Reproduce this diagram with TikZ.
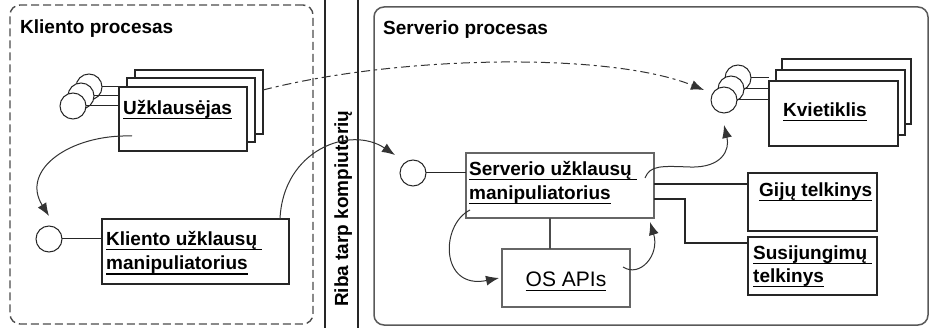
\documentclass[tikz,border=0pt]{standalone}
\usepackage{fontspec}
\setmainfont{Liberation Sans}
\usetikzlibrary{arrows.meta,calc}

% underlined label text: rule set a little below the baseline
\newsavebox\ulsave
\newcommand\ulined[1]{\sbox\ulsave{#1}\rlap{\raisebox{-4.5pt}{\rule{\wd\ulsave}{1.4pt}}}\usebox\ulsave}

\begin{document}
\begin{tikzpicture}[x=1pt,y=-1pt,
  comp/.style={rectangle, draw=black!85, line width=1.3pt, fill=white, inner sep=0pt, outer sep=0pt, anchor=north west},
  graycomp/.style={comp, draw=black!60},
  port/.style={circle, draw=black!85, line width=1pt, fill=white, inner sep=0pt, outer sep=0pt, minimum size=26pt},
  lbl/.style={anchor=base west, inner sep=0pt, font=\fontsize{19}{23}\selectfont\bfseries},
  wire/.style={draw=black!85, line width=1.2pt},
  flow/.style={draw=black!80, line width=1pt, -{Latex[length=13pt,width=10pt]}},
]
\useasboundingbox (0,0) rectangle (933,328);

% process frames
\node[draw=black!70, line width=1.4pt, dash pattern=on 8pt off 4pt, rounded corners=10pt,
      minimum width=303pt, minimum height=319pt, anchor=north west, inner sep=0pt, outer sep=0pt] (client) at (10,5) {};
\node[draw=black!65, line width=1.5pt, rounded corners=10pt,
      minimum width=554pt, minimum height=318pt, anchor=north west, inner sep=0pt, outer sep=0pt] (server) at (374,7) {};

% machine boundary
\coordinate (b1t) at (325,0); \coordinate (b1b) at (325,328);
\coordinate (b2t) at (358,0); \coordinate (b2b) at (358,328);
\draw[black!85, line width=1.5pt] (b1t) -- (b1b);
\draw[black!85, line width=1.5pt] (b2t) -- (b2b);
\node[lbl, rotate=90] (boundary) at (348,307) {Riba tarp kompiuterių};

\node[lbl] (clientTitle) at (20,34) {Kliento procesas};
\node[lbl] (serverTitle) at (383,35) {Serverio procesas};

% requester stack
\node[comp, minimum width=128pt, minimum height=64pt] (uz3) at (135,70) {};
\node[comp, minimum width=128pt, minimum height=64pt] (uz2) at (127,78) {};
\node[comp, minimum width=128pt, minimum height=64pt] (uz1) at (119,87) {};
\node[lbl] (uzText) at (123,115) {\ulined{Užklausėjas}};
\node[port] (u3) at (89,87) {};
\node[port] (u2) at (81,96) {};
\node[port] (u1) at (73,106) {};
\draw[wire, line width=1pt] (u3.east) -- (u3.east -| uz1.west);
\draw[wire, line width=1pt] (u2.east) -- (u2.east -| uz1.west);
\draw[wire, line width=1pt] (u1.east) -- (u1.east -| uz1.west);

% client request handler
\node[comp, minimum width=187pt, minimum height=65pt] (kb) at (102,219) {};
\node[lbl] (kbText1) at (106,246) {\ulined{Kliento užklausų }};
\node[lbl] (kbText2) at (106,270) {\ulined{manipuliatorius}};
\node[port] (kc) at (49,239) {};
\draw[wire, line width=1pt] (kc.east) -- (kc.east -| kb.west);

% server request handler
\node[graycomp, minimum width=188pt, minimum height=65pt] (sb) at (466,153) {};
\node[lbl] (sbText1) at (469,176) {\ulined{Serverio užklausų }};
\node[lbl] (sbText2) at (469,200) {\ulined{manipuliatorius}};
\node[port] (sc) at (413,173) {};
\draw[wire, line width=1pt] (sc.east) -- (sc.east -| sb.west);

% OS APIs
\node[graycomp, minimum width=128pt, minimum height=58pt] (os) at (502,249) {};
\node[anchor=base, inner sep=0pt, font=\fontsize{21}{25}\selectfont] (osText) at (566,287) {\ulined{OS APIs}};
\draw[wire, draw=black!70] ($(sb.south)+(-10,0)$) coordinate (v1) -- (v1 |- os.north);

% pools
\node[comp, minimum width=129pt, minimum height=58pt] (gb) at (748,173) {};
\node[lbl] (gbText) at (759,197) {\ulined{Gijų telkinys}};
\node[comp, minimum width=129pt, minimum height=58pt] (jb) at (748,237) {};
\node[lbl] (jbText1) at (753,260) {\ulined{Susijungimų }};
\node[lbl] (jbText2) at (753,283) {\ulined{telkinys}};
\draw[wire] ($(sb.north east)+(0,31)$) coordinate (w1) -- (w1 -| gb.west);
\draw[wire] ($(sb.north east)+(0,46)$) -| ($(jb.north west)+(-63,6)$) -- ($(jb.north west)+(0,6)$);

% invoker stack
\node[comp, minimum width=129pt, minimum height=65pt] (kv3) at (782,59) {};
\node[comp, minimum width=129pt, minimum height=65pt] (kv2) at (776,70) {};
\node[comp, minimum width=129pt, minimum height=65pt] (kv1) at (769,81) {};
\node[lbl] (kvText) at (783,117) {\ulined{Kvietiklis}};
\node[port] (k3) at (738,78) {};
\node[port] (k2) at (731,89) {};
\node[port] (k1) at (724,100) {};
\draw[wire, line width=1pt] (k3.east) -- (k3.east -| kv1.west);
\draw[wire, line width=1pt] (k2.east) -- (k2.east -| kv1.west);
\draw[wire, line width=1pt] (k1.east) -- (k1.east -| kv1.west);

% message flows
\coordinate (uzOut) at (132,136);
\draw[flow] (uzOut) .. controls (70,134) and (20,170) .. ([yshift=10pt]kc.north);
\draw[flow] ([xshift=-9pt]kb.north east) .. controls (283,150) and (350,125) .. ($(sc.center)+(-18,-18)$);
\draw[flow, dash pattern=on 9pt off 4pt on 3pt off 4pt] ([yshift=12pt]uz3.east) .. controls (400,55) and (610,52) .. ($(k1.center)+(-20,-10)$);
\coordinate (sOut) at (645,178);
\draw[flow] (sOut) .. controls (650,165) and (662,166) .. (690,167) .. controls (722,168) and (730,150) .. ($(k1.center)+(0,25)$);
\coordinate (sDown) at (470,210);
\draw[flow] (sDown) .. controls (440,225) and (440,290) .. ($(os.north west)+(-3,29)$);
\coordinate (osUp) at (623,267);
\draw[flow] (osUp) .. controls (640,278) and (660,255) .. ($(sb.south east)+(-4,4)$);
\end{tikzpicture}
\end{document}
